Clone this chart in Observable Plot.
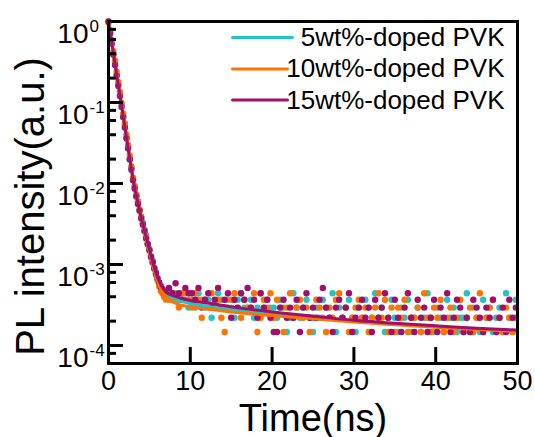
<!DOCTYPE html>
<html><head><meta charset="utf-8">
<script src="https://cdn.jsdelivr.net/npm/d3@7"></script>
<script src="https://cdn.jsdelivr.net/npm/@observablehq/plot@0.6"></script>
<style>html,body{margin:0;padding:0;background:#fff;}#chart{width:535px;height:437px;}</style>
</head><body><div id="chart"></div>
<script>
// ---- series ----
const seriesNames = ["5wt%-doped PVK", "10wt%-doped PVK", "15wt%-doped PVK"];
const seriesColors = ["#22C4C6", "#FF7300", "#A0106A"];

// ---- time grid of the measured points (ns) ----
const decayStep = 0.2;   // early decay points: t = 0, 0.2, ... 7.0
const tailStart = 7.4;   // background tail points: t = 7.4, 7.8, ... 49.8
const tailStep = 0.4;
const peakCounts = 13600; // counts at the peak (normalisation to 1)

// ---- early decay, normalised intensity ----
const cyanDecay = [1.0,0.73,0.56,0.40,0.31,0.22,0.17,0.125,0.094,0.068,0.052,0.037,0.029,0.020,0.0157,0.0112,0.0091,0.0071,0.0060,0.0047,0.0039,0.0033,0.0026,0.0023,0.0018,0.00157,0.00127,0.00112,0.00091,0.00081,0.00066,0.00059,0.00055,0.00048,0.00046,0.00040];
const orangeDecay = [0.97,0.78,0.59,0.43,0.33,0.24,0.18,0.135,0.099,0.073,0.055,0.040,0.030,0.022,0.0163,0.0118,0.0093,0.0074,0.0060,0.0048,0.0039,0.0032,0.0027,0.0022,0.0018,0.00150,0.00123,0.00105,0.00088,0.00074,0.00063,0.00054,0.00047,0.00044,0.00040,0.00037];
const purpleDecay = [1.0,0.71,0.53,0.39,0.29,0.215,0.16,0.12,0.088,0.066,0.049,0.036,0.027,0.0198,0.0148,0.0110,0.0086,0.0069,0.0056,0.0046,0.0037,0.0031,0.0026,0.0021,0.00178,0.00150,0.00125,0.00107,0.00090,0.00078,0.00068,0.00060,0.00053,0.00050,0.00046,0.00044];

// ---- background tail, photon counts per bin ----
const cyanTail = [6,5,6,5,5,6,4,
  5,4,6,5,4,5,3,4,6,5,4,5,4,3,5,6,4,4,5,3,4,6,4,5,4,
  4,3,5,4,2,3,6,4,3,4,5,3,2,4,3,5,4,3,6,2,4,3,4,5,3,2,4,3,5,4,3,6,3,4,2,3,5,
  3,2,4,3,5,2,3,4,2,3,6,3,2,4,3,2,5,3,4,2,3,3,6,2,4,3,2,5,3,4,2,3,4,2,6,3,2,5];
const orangeTail = [5,6,5,4,6,5,5,
  4,6,5,3,5,4,6,4,5,3,2,4,5,6,4,3,5,4,4,6,2,3,5,4,6,
  3,5,4,2,4,6,3,4,5,3,4,2,3,5,4,3,2,4,3,5,6,3,4,2,3,4,5,3,4,2,3,4,6,3,5,2,4,
  2,4,3,5,2,3,3,4,2,6,3,2,4,3,5,2,3,4,2,3,5,2,3,4,2,3,6,2,3,4,5,2,3,2,4,3,2,3];
const purpleTail = [7,6,8,6,5,7,6,
  6,5,7,4,5,6,4,5,7,4,5,6,3,5,4,6,5,7,4,5,3,6,4,5,3,
  2,2,4,5,3,4,3,5,2,4,6,3,4,3,5,7,4,3,2,4,5,3,4,6,2,3,4,5,3,4,2,5,3,4,6,3,2,
  5,3,2,4,6,3,2,5,3,4,2,3,5,2,4,3,6,2,3,5,4,2,3,2,5,4,3,2,4,3,5,2,3,4,2,5,3,4];

// ---- fitted curves ----
const fitTimes = [0,0.5,1,1.5,2,2.5,3,3.5,4,4.5,5,5.5,6,6.5,7,8,10,12.5,15,20,25,30,35,40,45,50];
const cyanFit = [1.0,0.475,0.228,0.108,0.052,0.0245,0.0115,0.0065,0.0038,0.0024,0.00148,0.00096,0.00066,0.00051,0.00043,0.00038,0.00033,0.00030,0.00028,0.000245,0.00022,0.0002,0.000184,0.00017,0.00016,0.000152];
const orangeFit = [1.0,0.49,0.235,0.113,0.054,0.0255,0.0119,0.0066,0.0038,0.0023,0.00143,0.00091,0.00062,0.00047,0.00040,0.00034,0.00030,0.00028,0.00026,0.000235,0.000215,0.000195,0.00018,0.000168,0.000158,0.00015];
const purpleFit = [1.0,0.47,0.222,0.105,0.050,0.0237,0.0112,0.0064,0.0038,0.0024,0.00153,0.00100,0.00069,0.00054,0.00046,0.00041,0.00036,0.00033,0.00030,0.00026,0.00023,0.000205,0.000188,0.000175,0.000163,0.000155];

// ---- axes ----
const xTicks = [0,10,20,30,40,50];
const xInnerTicks = [10,20,30,40];
const yMajor = [1e-4,1e-3,1e-2,1e-1,1];
const yMinor = [8e-5,2e-4,4e-4,6e-4,8e-4,2e-3,4e-3,6e-3,8e-3,2e-2,4e-2,6e-2,8e-2,2e-1,4e-1,6e-1,8e-1];
const xLabel = "Time(ns)";
const yLabel = "PL intensity(a.u.)";

// ---- build tables ----
const decays = [cyanDecay, orangeDecay, purpleDecay];
const tails = [cyanTail, orangeTail, purpleTail];
const fits = [cyanFit, orangeFit, purpleFit];
const dots = [], fitRows = [];
seriesNames.forEach((name, s) => {
  decays[s].forEach((v, i) => dots.push({series: name, t: +(i * decayStep).toFixed(2), v}));
  tails[s].forEach((c, i) => dots.push({series: name, t: +(tailStart + i * tailStep).toFixed(2), v: c / peakCounts}));
  fits[s].forEach((v, i) => fitRows.push({series: name, t: fitTimes[i], v}));
});

const W = 535, H = 437, mL = 108, mR = 18, mT = 21, mB = 74;
const frameW = W - mL - mR, frameH = H - mT - mB;
const tickColor = "#000";

const tickShape = {draw(context, l) { context.moveTo(0, 0); context.lineTo(0, -l); }};

const legendMarks = [];
const legendDy = [16, 47.5, 79];
const legendLineDy = [16, 47.5, 78.5];
const legendLen = [60, 55, 55];
seriesNames.forEach((name, s) => {
  legendMarks.push(Plot.vector([name], {frameAnchor: "top-right", dx: -285, dy: legendLineDy[s], rotate: 90, anchor: "start", length: legendLen[s], shape: tickShape, stroke: seriesColors[s], strokeWidth: 3}));
  legendMarks.push(Plot.text([name], {frameAnchor: "top-right", text: d => d, dx: -13, dy: legendDy[s], textAnchor: "end", lineAnchor: "middle", fontSize: 26, fill: "black"}));
});

const chart = Plot.plot({
  width: W, height: H,
  marginLeft: mL, marginRight: mR, marginTop: mT, marginBottom: mB,
  style: {fontFamily: "'Liberation Sans', Arial, Helvetica, sans-serif", background: "white"},
  x: {domain: [0, 50]},
  y: {type: "log", domain: [6e-5, 1], axis: null},
  color: {domain: seriesNames, range: seriesColors},
  marks: [
    Plot.dot(dots, {x: "t", y: "v", fill: "series", r: 3.2}),
    Plot.line(fitRows, {x: "t", y: "v", z: "series", stroke: "series", strokeWidth: 3, curve: "monotone-x"}),
    Plot.frame({stroke: "#000", strokeWidth: 3}),
    // inward ticks: rules spanning only a few pixels from the axis
    Plot.ruleY(yMajor, {y: d => d, insetRight: frameW - 15, stroke: tickColor, strokeWidth: 3}),
    Plot.ruleY(yMinor, {y: d => d, insetRight: frameW - 8, stroke: tickColor, strokeWidth: 3}),
    Plot.ruleX(xInnerTicks, {x: d => d, insetTop: frameH - 16, stroke: tickColor, strokeWidth: 3}),
    Plot.axisX({ticks: xTicks, tickSize: 0, tickPadding: 7, fontSize: 27, label: null, tickFormat: d => String(d)}),
    Plot.text(yMajor, {y: d => d, frameAnchor: "left", text: () => "10", textAnchor: "end", lineAnchor: "bottom", dx: -20, dy: 21, fontSize: 28, fill: "#000"}),
    Plot.text(yMajor, {y: d => d, frameAnchor: "left", text: d => String(Math.round(Math.log10(d))), textAnchor: "start", lineAnchor: "bottom", dx: -19, dy: 10, fontSize: 17, fill: "#000"}),
    Plot.text([xLabel], {frameAnchor: "bottom", text: d => d, lineAnchor: "bottom", dy: 67, fontSize: 38, fill: "#000"}),
    Plot.text([yLabel], {frameAnchor: "left", text: d => d, rotate: -90, lineAnchor: "bottom", textAnchor: "middle", dx: -65, dy: 14, fontSize: 40, fill: "#000"}),
    ...legendMarks
  ]
});
document.getElementById("chart").appendChild(chart);
</script>
</body></html>
